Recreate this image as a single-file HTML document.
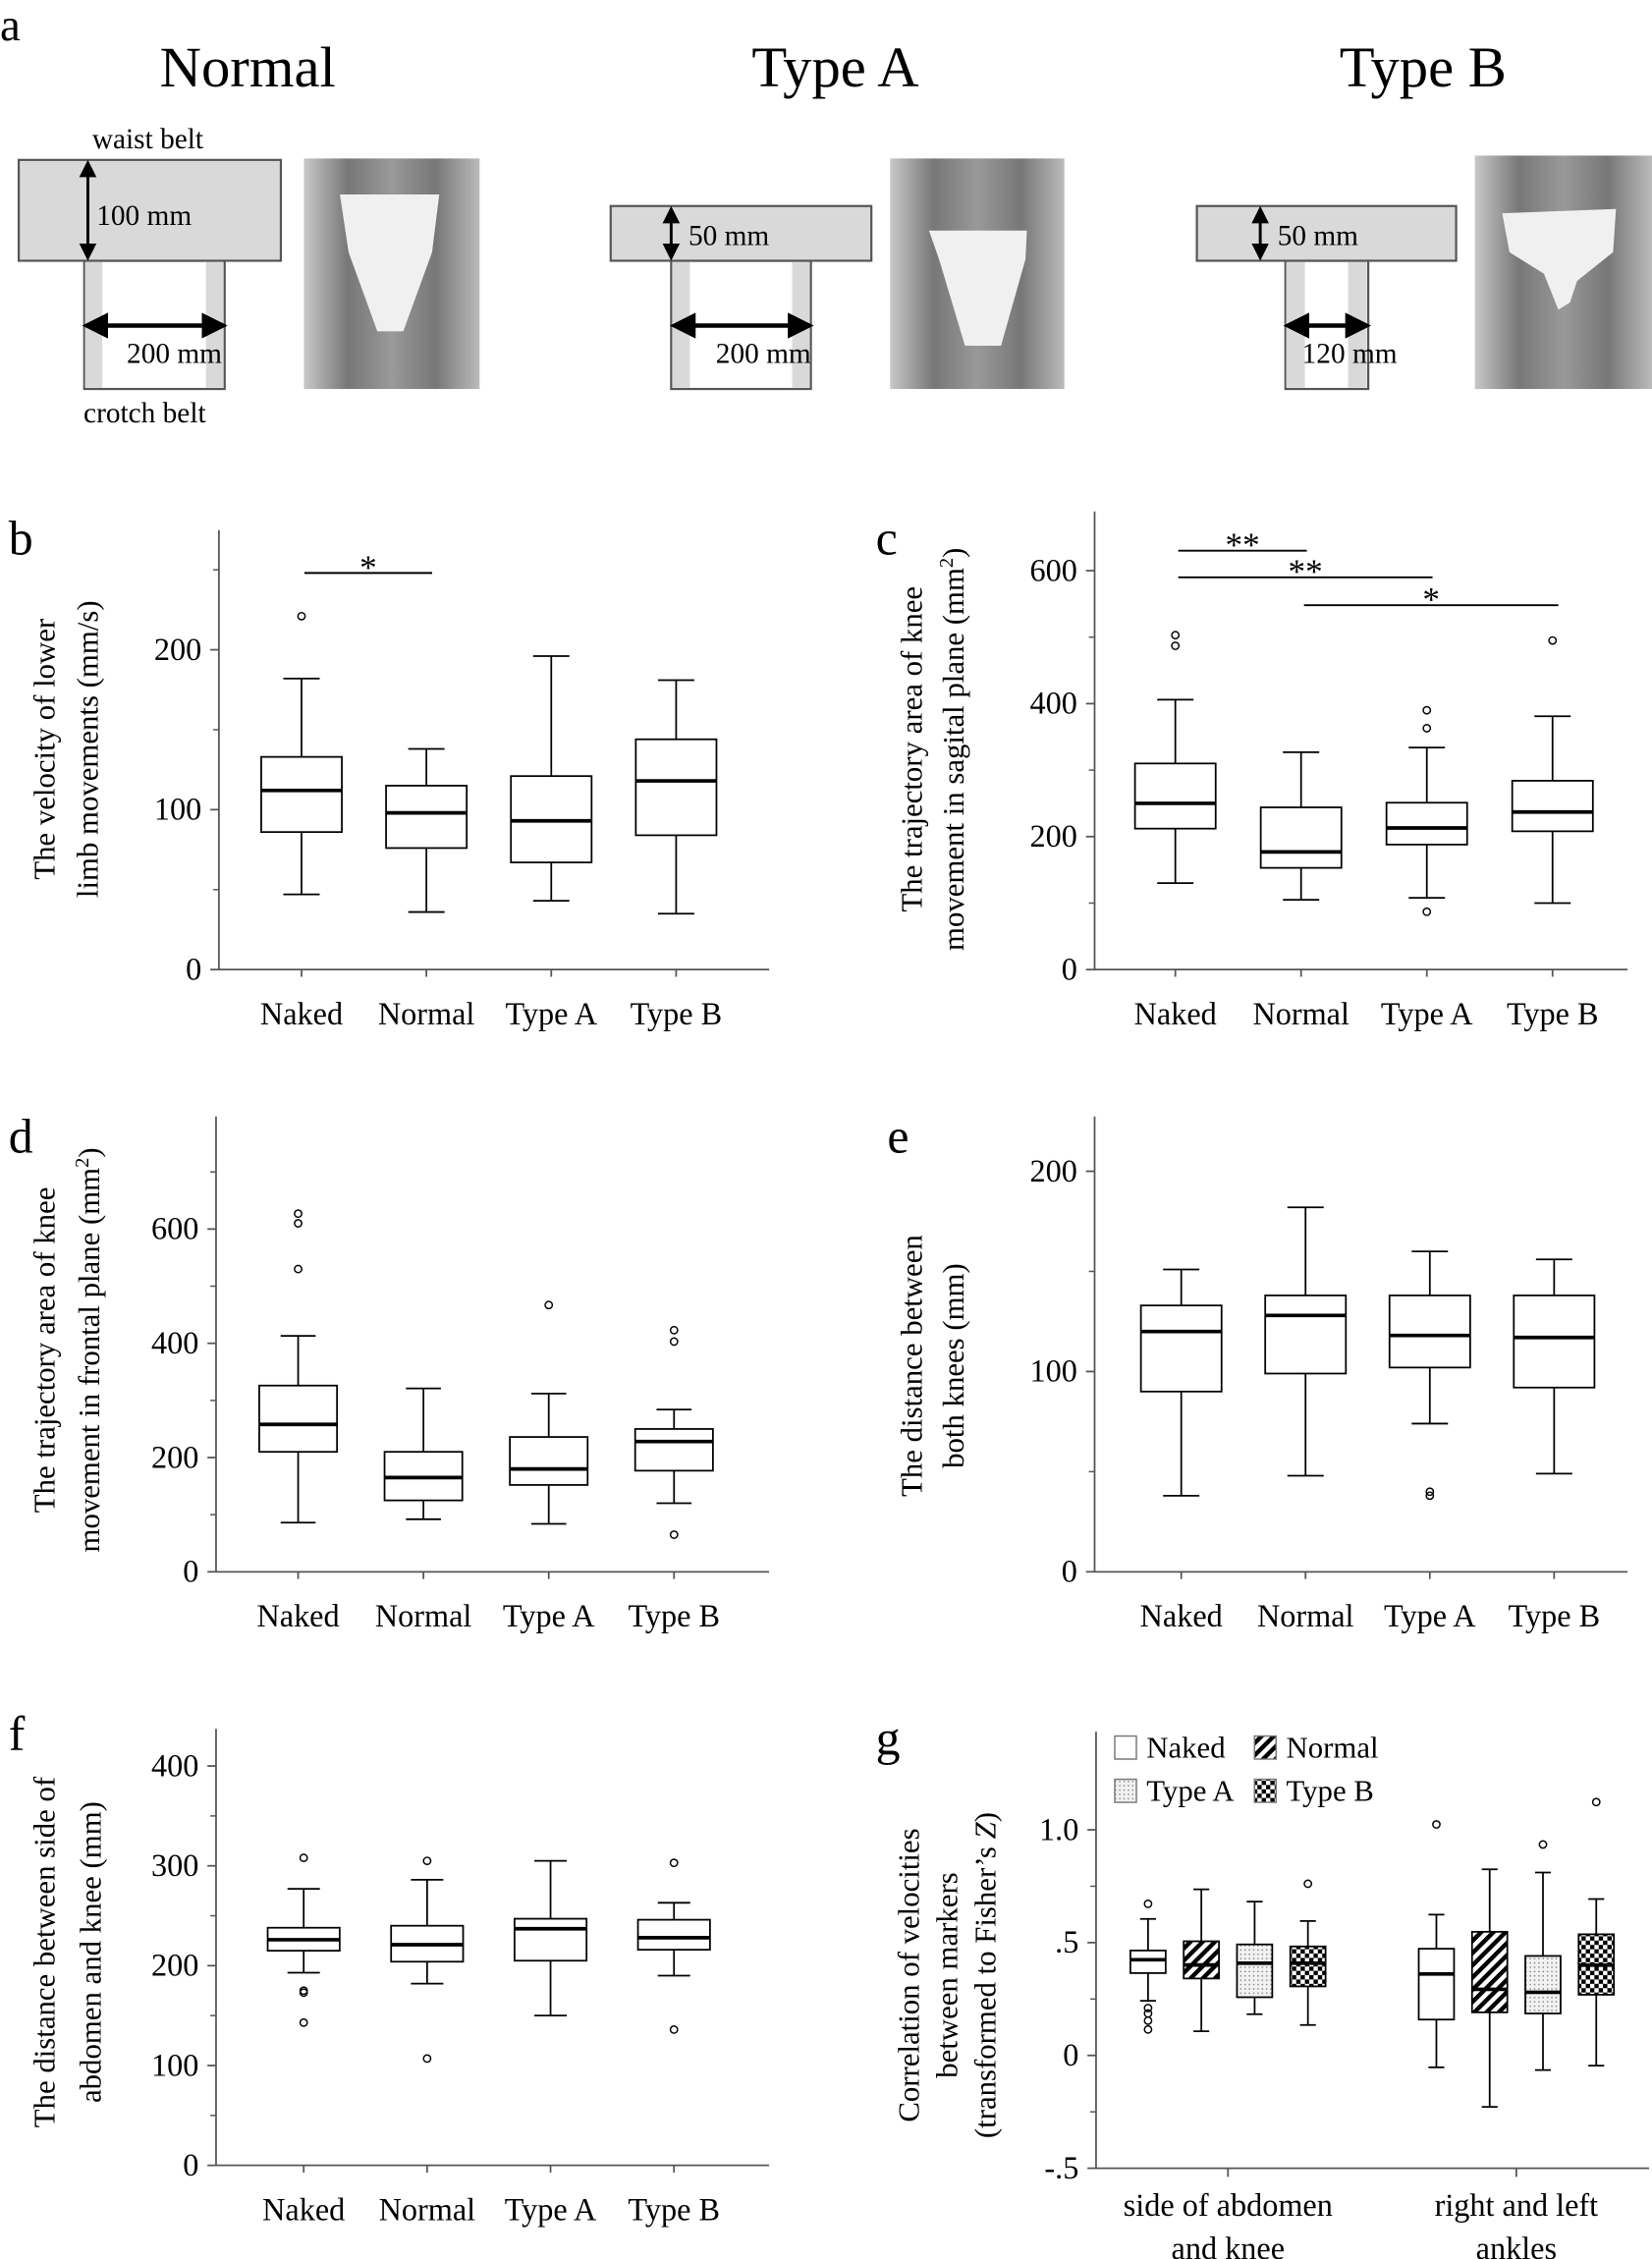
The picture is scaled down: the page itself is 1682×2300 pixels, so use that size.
<!DOCTYPE html>
<html><head><meta charset="utf-8"><style>
html,body{margin:0;padding:0;background:#fff;}
svg{display:block;}
text{font-family:"Liberation Serif","DejaVu Serif",serif;fill:#000;}
</style></head><body>
<svg id="fig" xmlns="http://www.w3.org/2000/svg" width="1682" height="2300" viewBox="0 0 1147 1568" preserveAspectRatio="none">
<defs>
<pattern id="hatch" patternUnits="userSpaceOnUse" width="6" height="6" patternTransform="rotate(45)"><rect width="6" height="6" fill="#fff"/><rect width="3" height="6" fill="#000"/></pattern>
<pattern id="dots" patternUnits="userSpaceOnUse" width="3" height="3"><rect width="3" height="3" fill="#f2f2f2"/><rect width="1" height="1" fill="#888"/></pattern>
<pattern id="check" patternUnits="userSpaceOnUse" width="6" height="6"><rect width="6" height="6" fill="#fff"/><rect width="3" height="3" fill="#000"/><rect x="3" y="3" width="3" height="3" fill="#000"/></pattern>
<linearGradient id="skin" x1="0" x2="1"><stop offset="0" stop-color="#c8c8c8"/><stop offset="0.25" stop-color="#777"/><stop offset="0.5" stop-color="#999"/><stop offset="0.75" stop-color="#777"/><stop offset="1" stop-color="#bbb"/></linearGradient>
<marker id="ah" markerWidth="6" markerHeight="6" refX="5" refY="3" orient="auto-start-reverse"><path d="M0,0 L6,3 L0,6 z" fill="#000"/></marker>
</defs>

<!-- Panel a -->
<g>
<text x="0" y="28" font-size="32">a</text>
<text x="172" y="60" font-size="40" text-anchor="middle">Normal</text>
<text x="580" y="60" font-size="40" text-anchor="middle">Type A</text>
<text x="988" y="60" font-size="40" text-anchor="middle">Type B</text>

<g>
<text x="64" y="103" font-size="20">waist belt</text>
<rect x="58.5" y="181" width="97.5" height="89" fill="#fff" stroke="#555" stroke-width="1.5"/>
<rect x="59" y="181" width="12" height="88" fill="#d9d9d9"/><rect x="143" y="181" width="12" height="88" fill="#d9d9d9"/>
<rect x="13" y="111" width="182" height="70" fill="#d9d9d9" stroke="#555" stroke-width="1.5"/>
<line x1="61" y1="113" x2="61" y2="179" stroke="#000" stroke-width="2" marker-start="url(#ah)" marker-end="url(#ah)"/>
<text x="67" y="156" font-size="20">100 mm</text>
<line x1="60" y1="226" x2="155" y2="226" stroke="#000" stroke-width="3" marker-start="url(#ah)" marker-end="url(#ah)"/>
<text x="88" y="252" font-size="20">200 mm</text>
<text x="58" y="293" font-size="20">crotch belt</text>
</g>
<g>
<rect x="211" y="110" width="122" height="160" fill="url(#skin)"/>
<path d="M236,135 L305,135 L300,175 L280,230 L262,230 L242,175 Z" fill="#f0f0f0"/>
</g>

<g>
<rect x="466" y="181" width="97" height="89" fill="#fff" stroke="#555" stroke-width="1.5"/>
<rect x="467" y="181" width="12" height="88" fill="#d9d9d9"/><rect x="550" y="181" width="12" height="88" fill="#d9d9d9"/>
<rect x="424" y="143" width="181" height="38" fill="#d9d9d9" stroke="#555" stroke-width="1.5"/>
<line x1="466" y1="145" x2="466" y2="179" stroke="#000" stroke-width="2" marker-start="url(#ah)" marker-end="url(#ah)"/>
<text x="478" y="170" font-size="20">50 mm</text>
<line x1="468" y1="226" x2="562" y2="226" stroke="#000" stroke-width="3" marker-start="url(#ah)" marker-end="url(#ah)"/>
<text x="497" y="252" font-size="20">200 mm</text>
</g>
<g>
<rect x="618" y="110" width="121" height="160" fill="url(#skin)"/>
<path d="M645,160 L713,160 L712,180 L695,240 L670,240 L652,180 Z" fill="#f0f0f0"/>
</g>

<g>
<rect x="892.5" y="181" width="57.5" height="89" fill="#fff" stroke="#555" stroke-width="1.5"/>
<rect x="893" y="181" width="13" height="88" fill="#d9d9d9"/><rect x="936" y="181" width="13" height="88" fill="#d9d9d9"/>
<rect x="831" y="143" width="180" height="38" fill="#d9d9d9" stroke="#555" stroke-width="1.5"/>
<line x1="875" y1="145" x2="875" y2="179" stroke="#000" stroke-width="2" marker-start="url(#ah)" marker-end="url(#ah)"/>
<text x="887" y="170" font-size="20">50 mm</text>
<line x1="894" y1="226" x2="949" y2="226" stroke="#000" stroke-width="3" marker-start="url(#ah)" marker-end="url(#ah)"/>
<text x="904" y="252" font-size="20">120 mm</text>
</g>
<g>
<rect x="1024" y="108" width="123" height="162" fill="url(#skin)"/>
<path d="M1043,148 L1122,145 L1120,175 L1095,195 L1090,210 L1082,215 L1072,190 L1048,175 Z" fill="#f0f0f0"/>
</g>
</g>

<g id="charts"></g>
</svg>

<script>
// ---- Panel b data ----
const bCats = ["Naked","Normal","Type A","Type B"];
const bLow = [47,36,43,35];
const bQ1 = [86,76,67,84];
const bMed = [112,98,93,118];
const bQ3 = [133,115,121,144];
const bHigh = [182,138,196,181];
const bOut = [[221],[],[],[]];
const bTicks = [0,100,200];
// ---- Panel c data ----
const cCats = ["Naked","Normal","Type A","Type B"];
const cLow = [130,105,108,100];
const cQ1 = [212,153,188,208];
const cMed = [250,177,213,237];
const cQ3 = [310,244,251,284];
const cHigh = [406,327,334,381];
const cOut = [[487,503],[],[87,363,390],[495]];
const cTicks = [0,200,400,600];
// ---- Panel d data ----
const dCats = ["Naked","Normal","Type A","Type B"];
const dLow = [86,92,84,120];
const dQ1 = [210,125,152,177];
const dMed = [258,165,180,228];
const dQ3 = [326,210,236,250];
const dHigh = [413,321,312,284];
const dOut = [[530,610,627],[],[467],[65,403,423]];
const dTicks = [0,200,400,600];
// ---- Panel e data ----
const eCats = ["Naked","Normal","Type A","Type B"];
const eLow = [38,48,74,49];
const eQ1 = [90,99,102,92];
const eMed = [120,128,118,117];
const eQ3 = [133,138,138,138];
const eHigh = [151,182,160,156];
const eOut = [[],[],[38,40],[]];
const eTicks = [0,100,200];
// ---- Panel f data ----
const fCats = ["Naked","Normal","Type A","Type B"];
const fLow = [193,182,150,190];
const fQ1 = [215,204,205,216];
const fMed = [226,221,237,228];
const fQ3 = [238,240,247,246];
const fHigh = [277,286,305,263];
const fOut = [[143,173,175,308],[107,305],[],[136,303]];
const fTicks = [0,100,200,300,400];
// ---- Panel g data ----
const gGroups = ["side of abdomen|and knee","right and left|ankles"];
const gSeries = ["Naked","Normal","Type A","Type B"];
const gLow = [[0.242,0.107,0.183,0.135],[-0.053,-0.228,-0.065,-0.045]];
const gQ1 = [[0.365,0.341,0.258,0.306],[0.159,0.191,0.186,0.269]];
const gMed = [[0.424,0.401,0.409,0.409],[0.361,0.293,0.280,0.400]];
const gQ3 = [[0.465,0.506,0.492,0.483],[0.473,0.548,0.441,0.537]];
const gHigh = [[0.605,0.736,0.682,0.596],[0.624,0.825,0.811,0.693]];
const gOut = [[[0.672,0.21,0.186,0.154,0.115],[],[],[0.761]],[[1.024],[],[0.935],[1.123]]];
const gTicks = [-0.5,0,0.5,1.0];
const gTickLabels = ["-.5","0",".5","1.0"];
// significance bars
const bSig = [[0,1,248,"*"]];
const cSig = [[0,1,630,"**"],[0,2,590,"**"],[1,3,548,"*"]];

const NS = "http://www.w3.org/2000/svg";
const root = document.getElementById("charts");
function mk(tag, attrs, parent, txt){
  const e = document.createElementNS(NS, tag);
  for (const k in attrs) e.setAttribute(k, attrs[k]);
  if (txt !== undefined) e.textContent = txt;
  (parent||root).appendChild(e);
  return e;
}

function boxAt(g, cx, w, yf, lo, q1, md, q3, hi, outs, fill){
  const cap = w*0.45;
  const wl = mk("line",{x1:cx,x2:cx,y1:yf(hi),y2:yf(q3),stroke:"#000","stroke-width":1.2},g);
  
  
  const wl2 = mk("line",{x1:cx,x2:cx,y1:yf(q1),y2:yf(lo),stroke:"#000","stroke-width":1.2},g);
  
  
  mk("line",{x1:cx-cap/2,x2:cx+cap/2,y1:yf(hi),y2:yf(hi),stroke:"#000","stroke-width":1.2},g);
  mk("line",{x1:cx-cap/2,x2:cx+cap/2,y1:yf(lo),y2:yf(lo),stroke:"#000","stroke-width":1.2},g);
  const r = mk("rect",{x:cx-w/2,y:yf(q3),width:w,height:yf(q1)-yf(q3),fill:fill,stroke:"#000","stroke-width":1.2},g);
  
  
  const m = mk("line",{x1:cx-w/2,x2:cx+w/2,y1:yf(md),y2:yf(md),stroke:"#000","stroke-width":2.5},g);
  
  
  outs.forEach(v=>{
    const c = mk("circle",{cx:cx,cy:yf(v),r:2.5,fill:"none",stroke:"#000","stroke-width":1},g);
    
    
  });
}

function panel(p){
  const g = mk("g",{});
  
  
  const yf = v => p.y0 - (v - p.vmin)*p.ppu;
  const lt = mk("text",{x:p.letterX,y:p.letterY,"font-size":34},g,p.id);
  
  
  const ya = mk("line",{x1:p.ax,x2:p.ax,y1:p.yTop,y2:p.y0,stroke:"#555","stroke-width":1.2},g);
  
  
  const xa = mk("line",{x1:p.ax,x2:p.axEnd,y1:p.y0,y2:p.y0,stroke:"#555","stroke-width":1.2},g);
  
  
  p.ticks.forEach((t,i)=>{
    mk("line",{x1:p.ax-6,x2:p.ax,y1:yf(t),y2:yf(t),stroke:"#555","stroke-width":1.2},g);
    const tl = mk("text",{x:p.ax-12,y:yf(t)+7,"font-size":22,"text-anchor":"end"},g,p.tickLabels?p.tickLabels[i]:String(t));
    
    
    if (i < p.ticks.length-1 || p.extraMinor){
      const mt = t + (p.ticks[1]-p.ticks[0])/2;
      if (yf(mt) > p.yTop) mk("line",{x1:p.ax-4,x2:p.ax,y1:yf(mt),y2:yf(mt),stroke:"#555","stroke-width":1},g);
    }
  });
  const tt = mk("text",{"font-size":21,"text-anchor":"middle",transform:`translate(${p.titleX},${p.titleY}) rotate(-90)`},g);
  
  
  p.title.forEach((line,i)=>{
    const ts = mk("tspan",{x:0,dy:i===0?0:(p.titleGap||30)},tt);
    ts.innerHTML = line;
  });
  return {g,yf};
}

function simplePanel(p, cats, lo, q1, md, q3, hi, outs, sig){
  const {g,yf} = panel(p);
  const xf = i => p.xStart + p.step*(i+0.5);
  cats.forEach((c,i)=>{
    mk("line",{x1:xf(i),x2:xf(i),y1:p.y0,y2:p.y0+5,stroke:"#555","stroke-width":1.2},g);
    const bg = mk("g",{},g);
    
    
    boxAt(bg, xf(i), p.boxW, yf, lo[i], q1[i], md[i], q3[i], hi[i], outs[i], "#fff");
    const lab = mk("text",{x:xf(i),y:p.y0+38,"font-size":22,"text-anchor":"middle"},g,c);
    
    
  });
  (sig||[]).forEach(s=>{
    const sl = mk("line",{x1:xf(s[0])+2,x2:xf(s[1])+4,y1:yf(s[2]),y2:yf(s[2]),stroke:"#000","stroke-width":1.3},g);
    
    
    const st = mk("text",{x:(xf(s[0])+xf(s[1]))/2+3,y:yf(s[2])+4,"font-size":24,"text-anchor":"middle"},g,s[3]);
    
    
  });
}

simplePanel({id:"b",ax:152,axEnd:534,y0:673,vmin:0,ppu:1.11,yTop:368,ticks:bTicks,letterX:6,letterY:385,
  xStart:166,step:86.7,boxW:56,titleX:38,titleY:520,title:["The velocity of lower","limb movements (mm/s)"],extraMinor:true},
  bCats,bLow,bQ1,bMed,bQ3,bHigh,bOut,bSig);
simplePanel({id:"c",ax:760,axEnd:1130,y0:673,vmin:0,ppu:0.4615,yTop:355,ticks:cTicks,letterX:608,letterY:385,
  xStart:772.4,step:87.3,boxW:56,titleX:640,titleY:520,title:["The trajectory area of knee","movement in sagital plane (mm<tspan baseline-shift='super' font-size='14'>2</tspan>)"],titleGap:29}
  ,cCats,cLow,cQ1,cMed,cQ3,cHigh,cOut,cSig);
simplePanel({id:"d",ax:150,axEnd:534,y0:1091,vmin:0,ppu:0.3965,yTop:775,ticks:dTicks,letterX:6,letterY:800,
  xStart:163.5,step:87,boxW:54,titleX:38,titleY:937,title:["The trajectory area of knee","movement in frontal plane (mm<tspan baseline-shift='super' font-size='14'>2</tspan>)"],titleGap:31,extraMinor:true},
  dCats,dLow,dQ1,dMed,dQ3,dHigh,dOut);
simplePanel({id:"e",ax:760,axEnd:1130,y0:1091,vmin:0,ppu:1.39,yTop:775,ticks:eTicks,letterX:616,letterY:800,
  xStart:777,step:86.3,boxW:56,titleX:640,titleY:948,title:["The distance between","both knees (mm)"],titleGap:29,extraMinor:true},
  eCats,eLow,eQ1,eMed,eQ3,eHigh,eOut);
simplePanel({id:"f",ax:150,axEnd:534,y0:1503,vmin:0,ppu:0.693,yTop:1200,ticks:fTicks,letterX:6,letterY:1215,
  xStart:168,step:85.7,boxW:50,titleX:38,titleY:1355,title:["The distance between side of","abdomen and knee (mm)"],titleGap:32},
  fCats,fLow,fQ1,fMed,fQ3,fHigh,fOut);

// Panel g
(function(){
  const p = {id:"g",ax:761,axEnd:1145,y0:1505,vmin:-0.5,ppu:156.6,yTop:1202,ticks:gTicks,tickLabels:gTickLabels,letterX:608,letterY:1218,
    titleX:638,titleY:1371,title:["Correlation of velocities","between markers","(transformed to Fisher’s <tspan font-style='italic'>Z</tspan>)"],titleGap:26.5};
  const {g,yf} = panel(p);
  const fills = ["#fff","url(#hatch)","url(#dots)","url(#check)"];
  const groupStart = 752.5, groupStep = 200.2, sub = 37, bw = 24.5;
  const gx = gi => groupStart + groupStep*(gi+0.5);
  gGroups.forEach((name,gi)=>{
    mk("line",{x1:gx(gi),x2:gx(gi),y1:p.y0,y2:p.y0+6,stroke:"#555","stroke-width":1.2},g);
    const lines = name.split("|");
    lines.forEach((ln,li)=>{
      const t = mk("text",{x:gx(gi),y:p.y0+33+li*30,"font-size":22,"text-anchor":"middle"},g,ln);
      
      
    });
    gSeries.forEach((s,si)=>{
      const bg = mk("g",{},g);
      
      
      const cx = gx(gi) + (si-1.5)*sub;
      boxAt(bg, cx, bw, yf, gLow[gi][si], gQ1[gi][si], gMed[gi][si], gQ3[gi][si], gHigh[gi][si], gOut[gi][si], fills[si]);
    });
  });
  const lg = mk("g",{},g);
  
  
  const lx = [774,871], ly = [1205,1235];
  gSeries.forEach((s,si)=>{
    const col = si%2, row = Math.floor(si/2);
    const e = mk("g",{},lg);
    
    
    mk("rect",{x:lx[col],y:ly[row],width:15,height:16,fill:fills[si],stroke:"#777","stroke-width":1},e);
    mk("text",{x:lx[col]+22,y:ly[row]+15,"font-size":21},e,s);
  });
})();
</script>
</body></html>
